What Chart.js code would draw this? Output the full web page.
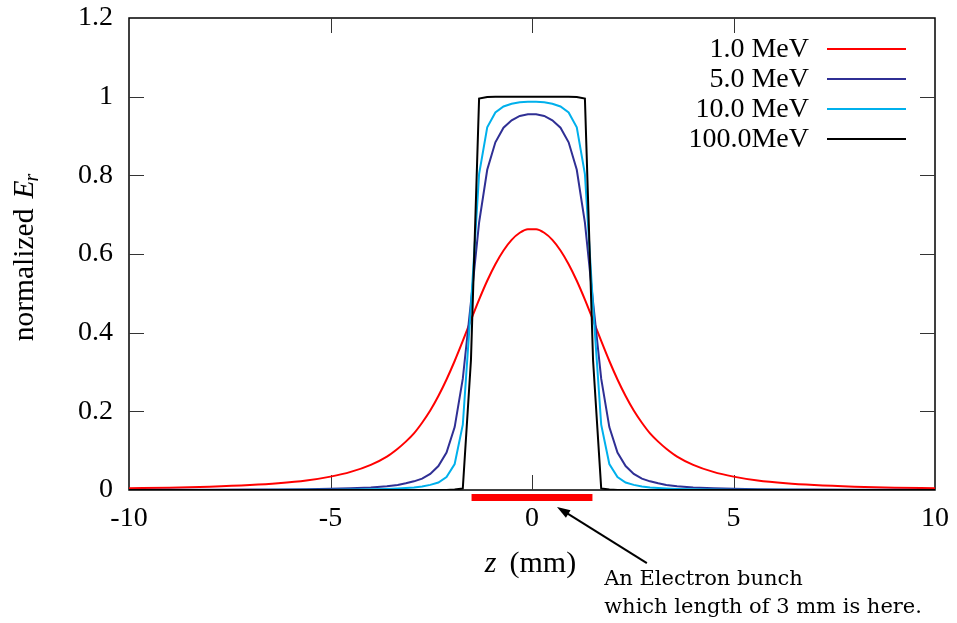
<!DOCTYPE html>
<html>
<head>
<meta charset="utf-8">
<script src="https://cdn.jsdelivr.net/npm/chart.js@4.4.0/dist/chart.umd.min.js"></script>
<style>
  body { margin: 0; background: #fff; }
  canvas { display: block; }
</style>
</head>
<body>
<canvas id="chart" width="957" height="623"></canvas>
<script>
// Longitudinal profile of the radial field of a 3 mm bunch, for four beam energies
const zValues = [
  -10, -9, -8, -7, -6.3, -5.6, -5, -4.5, -4, -3.6, -3.333, -3.131, -2.929, -2.727,
  -2.525, -2.323, -2.121, -1.919, -1.717, -1.515, -1.313, -1.111, -0.909, -0.707,
  -0.505, -0.303, -0.101,
  0.101, 0.303, 0.505, 0.707, 0.909, 1.111, 1.313, 1.515, 1.717, 1.919, 2.121,
  2.323, 2.525, 2.727, 2.929, 3.131, 3.333, 3.6, 4, 4.5, 5, 5.6, 6.3, 7, 8, 9, 10
];

const er1MeV = [
  0.0043, 0.0059, 0.0084, 0.0125, 0.017, 0.024, 0.034, 0.046, 0.064, 0.085, 0.105,
  0.123, 0.144, 0.171, 0.202, 0.239, 0.281, 0.328, 0.379, 0.432, 0.484, 0.532, 0.574,
  0.609, 0.636, 0.654, 0.663,
  0.663, 0.654, 0.636, 0.609, 0.574, 0.532, 0.484, 0.432, 0.379, 0.328, 0.281, 0.239,
  0.202, 0.171, 0.144, 0.123, 0.105, 0.085, 0.064, 0.046, 0.034, 0.024, 0.017, 0.0125,
  0.0084, 0.0059, 0.0043
];

const er5MeV = [
  0.0003, 0.0005, 0.0007, 0.001, 0.0015, 0.0021, 0.0031, 0.0044, 0.0066, 0.0097, 0.013,
  0.017, 0.022, 0.029, 0.041, 0.061, 0.095, 0.160, 0.283, 0.478, 0.680, 0.814, 0.884,
  0.921, 0.940, 0.951, 0.955,
  0.955, 0.951, 0.940, 0.921, 0.884, 0.814, 0.680, 0.478, 0.283, 0.160, 0.095, 0.061,
  0.041, 0.029, 0.022, 0.017, 0.013, 0.0097, 0.0066, 0.0044, 0.0031, 0.0021, 0.0015,
  0.001, 0.0007, 0.0005, 0.0003
];

const er10MeV = [
  0.0001, 0.0001, 0.0002, 0.0003, 0.0004, 0.0006, 0.0009, 0.0012, 0.0019, 0.0027, 0.0037,
  0.0048, 0.0063, 0.0087, 0.013, 0.019, 0.033, 0.066, 0.166, 0.468, 0.803, 0.922, 0.960,
  0.975, 0.982, 0.986, 0.987,
  0.987, 0.986, 0.982, 0.975, 0.960, 0.922, 0.803, 0.468, 0.166, 0.066, 0.033, 0.019,
  0.013, 0.0087, 0.0063, 0.0048, 0.0037, 0.0027, 0.0019, 0.0012, 0.0009, 0.0006, 0.0004,
  0.0003, 0.0002, 0.0001, 0.0001
];

const er100MeV = [
  0, 0, 0, 0, 0, 0, 0, 0, 0, 0, 0,
  0, 0, 0, 0, 0, 0, 0.001, 0.004, 0.33, 0.995, 0.999, 1.0,
  1.0, 1.0, 1.0, 1.0,
  1.0, 1.0, 1.0, 1.0, 1.0, 0.999, 0.995, 0.33, 0.004, 0.001, 0, 0,
  0, 0, 0, 0, 0, 0, 0, 0, 0, 0, 0,
  0, 0, 0, 0
];

const seriesLabels = ["1.0 MeV", "5.0 MeV", "10.0 MeV", "100.0MeV"];
const seriesValues = [er1MeV, er5MeV, er10MeV, er100MeV];
const seriesColors = ["#ff0000", "#2f2f94", "#00b0ec", "#000000"];

const xTicks = [-10, -5, 0, 5, 10];
const yTicks = [0, 0.2, 0.4, 0.6, 0.8, 1, 1.2];

// bunch extent (mm), drawn just under the axis, and the arrow pointing at it
const bunchZ = [-1.5, 1.5];
const bunchLevel = -0.019;
const arrowFrom = [2.85, -0.186];
const arrowTo = [0.62, -0.043];
const noteAt = [1.79, -0.242];
const noteLines = ["An Electron bunch", "which length of 3 mm is here."];

const serif = "'Liberation Serif', serif";

const toPoints = (vals) => vals.map((v, i) => ({ x: zValues[i], y: v }));

const datasets = seriesValues.map((vals, i) => ({
  label: seriesLabels[i],
  data: toPoints(vals),
  borderColor: seriesColors[i],
  borderWidth: 2,
  pointRadius: 0,
  tension: 0,
  cubicInterpolationMode: i === 0 ? "monotone" : "default",
  order: 3 - i,
}));

datasets.push({
  label: "bunch",
  data: bunchZ.map((z) => ({ x: z, y: bunchLevel })),
  borderColor: "#ff0000",
  borderWidth: 7,
  borderCapStyle: "butt",
  pointRadius: 0,
  clip: false,
  order: 5,
});

// border box with gnuplot-style inward ticks on all four sides
const frameTicks = {
  id: "frameTicks",
  beforeDatasetsDraw(chart) {
    const { ctx, chartArea: a, scales } = chart;
    const len = 15;
    ctx.save();
    ctx.strokeStyle = "#000";
    ctx.lineWidth = 1.5;
    ctx.strokeRect(a.left, a.top, a.right - a.left, a.bottom - a.top);
    ctx.strokeStyle = "#333";
    ctx.lineWidth = 1;
    ctx.beginPath();
    xTicks.slice(1, -1).forEach((t) => {
      const px = Math.round(scales.x.getPixelForValue(t)) + 0.5;
      ctx.moveTo(px, a.bottom); ctx.lineTo(px, a.bottom - len);
      ctx.moveTo(px, a.top); ctx.lineTo(px, a.top + len);
    });
    yTicks.slice(1, -1).forEach((t) => {
      const py = Math.round(scales.y.getPixelForValue(t)) + 0.5;
      ctx.moveTo(a.left, py); ctx.lineTo(a.left + len, py);
      ctx.moveTo(a.right, py); ctx.lineTo(a.right - len, py);
    });
    ctx.stroke();
    ctx.restore();
  },
};

// legend box in the top right corner: text first, sample line after it
const cornerLegend = {
  id: "cornerLegend",
  afterDraw(chart) {
    const { ctx, chartArea: a } = chart;
    ctx.save();
    ctx.font = `28px ${serif}`;
    ctx.textAlign = "right";
    ctx.textBaseline = "middle";
    seriesLabels.forEach((label, i) => {
      const y = a.top + 31 + i * 30;
      ctx.fillStyle = "#000";
      ctx.fillText(label, a.right - 126, y + 1);
      ctx.strokeStyle = seriesColors[i];
      ctx.lineWidth = 2;
      ctx.beginPath();
      ctx.moveTo(a.right - 108, y);
      ctx.lineTo(a.right - 29, y);
      ctx.stroke();
    });
    ctx.restore();
  },
};

// axis titles with italic symbols
const axisTitles = {
  id: "axisTitles",
  afterDraw(chart) {
    const { ctx } = chart;
    ctx.save();
    ctx.fillStyle = "#000";
    ctx.textBaseline = "alphabetic";
    ctx.textAlign = "left";

    // z (mm)
    const gap = 13;
    ctx.font = `italic 30px ${serif}`;
    const wz = ctx.measureText("z").width;
    ctx.font = `30px ${serif}`;
    const wmm = ctx.measureText("(mm)").width;
    let x0 = 530.5 - (wz + gap + wmm) / 2;
    ctx.font = `italic 30px ${serif}`;
    ctx.fillText("z", x0, 572);
    ctx.font = `30px ${serif}`;
    ctx.fillText("(mm)", x0 + wz + gap, 572);

    // normalized E_r, read bottom to top
    ctx.translate(33, 257);
    ctx.rotate(-Math.PI / 2);
    const space = 10;
    ctx.font = `29.5px ${serif}`;
    const wn = ctx.measureText("normalized").width;
    ctx.font = `italic 29.5px ${serif}`;
    const wE = ctx.measureText("E").width;
    ctx.font = `italic 20px ${serif}`;
    const wr = ctx.measureText("r").width;
    x0 = -(wn + space + wE + wr) / 2;
    ctx.font = `29.5px ${serif}`;
    ctx.fillText("normalized", x0, 0);
    ctx.font = `italic 29.5px ${serif}`;
    ctx.fillText("E", x0 + wn + space, 0);
    ctx.font = `italic 20px ${serif}`;
    ctx.fillText("r", x0 + wn + space + wE - 1, 5);
    ctx.restore();
  },
};

// arrow and note pointing at the bunch
const bunchNote = {
  id: "bunchNote",
  afterDatasetsDraw(chart) {
    const { ctx, scales: { x, y } } = chart;
    const x1 = x.getPixelForValue(arrowFrom[0]);
    const y1 = y.getPixelForValue(arrowFrom[1]);
    const x2 = x.getPixelForValue(arrowTo[0]);
    const y2 = y.getPixelForValue(arrowTo[1]);
    const ang = Math.atan2(y2 - y1, x2 - x1);
    const head = 14;
    const spread = 0.32;
    ctx.save();
    ctx.strokeStyle = "#000";
    ctx.fillStyle = "#000";
    ctx.lineWidth = 2;
    ctx.beginPath();
    ctx.moveTo(x1, y1);
    ctx.lineTo(x2 - Math.cos(ang) * head * 0.8, y2 - Math.sin(ang) * head * 0.8);
    ctx.stroke();
    ctx.beginPath();
    ctx.moveTo(x2, y2);
    ctx.lineTo(x2 - head * Math.cos(ang - spread), y2 - head * Math.sin(ang - spread));
    ctx.lineTo(x2 - head * Math.cos(ang + spread), y2 - head * Math.sin(ang + spread));
    ctx.closePath();
    ctx.fill();

    ctx.font = "21px 'DejaVu Serif', serif";
    ctx.textAlign = "left";
    ctx.textBaseline = "alphabetic";
    const tx = x.getPixelForValue(noteAt[0]);
    const ty = y.getPixelForValue(noteAt[1]);
    noteLines.forEach((line, i) => ctx.fillText(line, tx, ty + i * 28));
    ctx.restore();
  },
};

const chart = new Chart(document.getElementById("chart"), {
  type: "line",
  data: { datasets },
  plugins: [frameTicks, bunchNote, cornerLegend, axisTitles],
  options: {
    responsive: false,
    animation: false,
    layout: { padding: { top: 18, right: 22, left: 0, bottom: 0 } },
    plugins: {
      legend: { display: false },
      tooltip: { enabled: false },
    },
    scales: {
      x: {
        type: "linear",
        min: xTicks[0],
        max: xTicks[xTicks.length - 1],
        afterBuildTicks: (scale) => { scale.ticks = xTicks.map((v) => ({ value: v })); },
        afterFit: (scale) => {
          scale.height = 133;
          scale.paddingLeft = 0;
          scale.paddingRight = 0;
        },
        grid: { display: false, drawTicks: false },
        border: { display: false },
        ticks: {
          color: "#000",
          padding: 12,
          maxRotation: 0,
          font: { family: serif, size: 28 },
          callback: (v) => String(v),
        },
      },
      y: {
        type: "linear",
        min: yTicks[0],
        max: yTicks[yTicks.length - 1],
        afterBuildTicks: (scale) => { scale.ticks = yTicks.map((v) => ({ value: v })); },
        afterFit: (scale) => {
          scale.width = 129;
          scale.paddingTop = 0;
          scale.paddingBottom = 0;
        },
        grid: { display: false, drawTicks: false },
        border: { display: false },
        ticks: {
          color: "#000",
          padding: 16,
          font: { family: serif, size: 28 },
          callback: (v) => String(+v.toFixed(1)),
        },
      },
    },
  },
});
</script>
</body>
</html>
